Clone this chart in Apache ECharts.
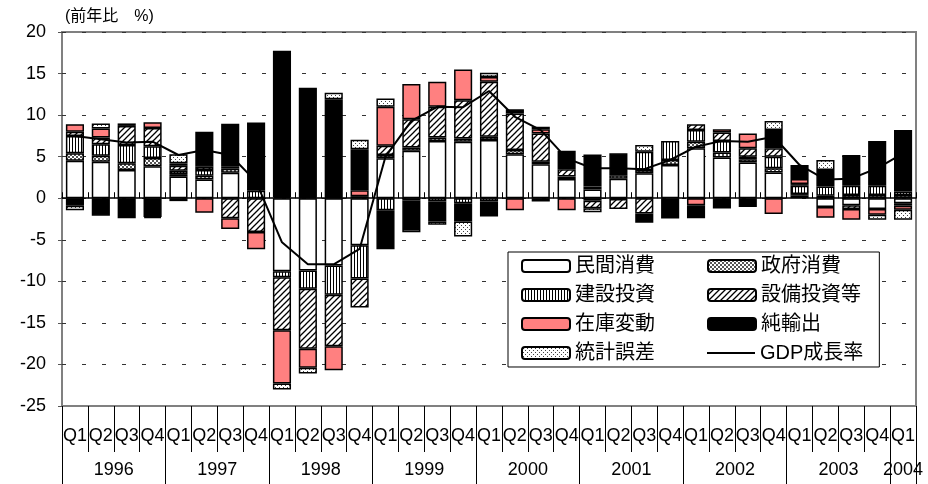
<!DOCTYPE html>
<html lang="ja">
<head>
<meta charset="UTF-8">
<title>GDP成長率 寄与度</title>
<script src="https://cdn.jsdelivr.net/npm/echarts@6/dist/echarts.min.js"></script>
<style>
  html, body { margin: 0; padding: 0; background: #fff; }
  #chart { width: 928px; height: 484px; }
</style>
</head>
<body>
<div id="chart"></div>
<script>
// 四半期・年ラベル
var quarters = [];
var years = [];
for (var y = 1996; y <= 2004; y++) {
    for (var q = 1; q <= 4; q++) {
        if (y === 2004 && q > 1) break;
        quarters.push('Q' + q);
        years.push(String(y));
    }
}

// 寄与度（前年比 %）
var consumption = [4.5, 4.4, 3.4, 3.85, 2.6, 2.25, 3.05, 0, -8.8, -8.7, -8.1, -5.65, 4.8, 5.7, 6.9, 6.8, 7.0, 5.3, 4.1, 2.3, 1.05, 2.35, 3.0, 4.0, 6.0, 4.9, 4.3, 3.1, 0.3, -1.05, -0.85, -1.3, -0.6];
var government  = [0.9, 0.7, 0.8, 1.0, 0.3, 0.45, 0.5, 0, 0.15, 0.1, 0.1, 0.25, 0.4, 0.4, 0.4, 0.4, 0.4, 0.5, 0.3, 0.3, 0.35, 0.4, 0.4, 0.6, 0.8, 0.6, 0.4, 0.5, 0.2, 0.3, 0.4, 0.4, 0.4];
var construction= [2.1, 1.4, 2.2, 1.4, 0.4, 0.7, 0.3, 0.9, -0.7, -2.2, -3.5, -4.0, -1.45, -0.3, -0.4, -0.6, -0.4, 0, 0, 0, -0.3, -0.1, 2.2, 2.3, 1.4, 1.4, 0.3, 1.4, 1.0, 1.1, 1.1, 1.1, 0.4];
var equipment   = [0.5, 0.8, 2.3, 2.2, 0.6, 0.4, -2.4, -4.05, -6.4, -7.2, -6.2, -3.5, 1.1, 3.4, 3.7, 4.6, 6.6, 4.4, 3.4, 0.9, -0.9, -1.2, -1.85, 0, 0.7, 1.0, 1.0, 1.0, 0.2, 0, -0.45, 0, -0.3];
var inventory   = [0.9, 1.1, 0, 0.7, 0.3, -1.75, -1.3, -2.1, -6.4, -2.3, -2.9, 0.7, 4.7, 4.25, 3.0, 3.7, 0.6, -1.45, 0.5, -1.45, 0, 0, 0, 0, -0.85, 0.4, 1.8, -1.9, 0.6, -1.3, -1.3, -0.7, -0.5];
var netExports  = [-0.9, -2.1, -2.4, -2.25, -0.35, 4.2, 5.1, 8.2, 17.6, 13.2, 11.8, 4.95, -4.7, -3.4, -2.4, -2.2, -1.8, 0.5, -0.4, 2.2, 3.85, 2.65, -1.1, -2.45, -1.55, -1.25, -1.05, 2.2, 1.7, 2.0, 3.7, 5.4, 7.4];
var discrepancy = [-0.55, 0.6, 0.3, -0.15, 1.1, 0, 0, 0, -0.7, -0.7, 0.8, 1.15, 1.0, -0.4, -0.4, -1.8, 0.5, 0, 0.3, 0, -0.5, 0, 0.8, 0, 0, 0, 0, 1.1, 0, 1.2, 0, -0.6, -1.2];
var gdpGrowth   = [7.5, 7.1, 6.7, 6.8, 5.2, 5.8, 5.2, 2.0, -5.3, -7.95, -7.95, -6.1, 5.0, 9.3, 11.0, 10.95, 12.9, 9.8, 8.2, 4.8, 3.6, 3.6, 3.5, 4.6, 6.2, 6.9, 6.8, 7.4, 4.0, 2.25, 2.35, 3.6, 5.4];

var names = ['民間消費', '政府消費', '建設投資', '設備投資等', '在庫変動', '純輸出', '統計誤差', 'GDP成長率'];

// ハッチング用パターン
function pattern(w, h, draw) {
    var c = document.createElement('canvas');
    c.width = w; c.height = h;
    var g = c.getContext('2d');
    g.fillStyle = '#fff';
    g.fillRect(0, 0, w, h);
    draw(g);
    return { image: c, repeat: 'repeat' };
}
var checker = pattern(4, 4, function (g) {
    g.fillStyle = '#555';
    g.fillRect(0, 0, 2, 2);
    g.fillRect(2, 2, 2, 2);
});
var vlines = pattern(3, 3, function (g) {
    g.fillStyle = '#000';
    g.fillRect(0, 0, 1, 3);
});
var diagonal = pattern(6, 6, function (g) {
    g.strokeStyle = '#000';
    g.lineWidth = 1.3;
    g.beginPath();
    g.moveTo(-1, 7); g.lineTo(7, -1);
    g.moveTo(-4, 4); g.lineTo(4, -4);
    g.moveTo(2, 10); g.lineTo(10, 2);
    g.stroke();
});
var dots = pattern(4, 4, function (g) {
    g.fillStyle = '#444';
    g.fillRect(1, 1, 1, 1);
    g.fillRect(3, 3, 1, 1);
});

var fills = ['#fff', checker, vlines, diagonal, '#ff8080', '#000', dots];
var values = [consumption, government, construction, equipment, inventory, netExports, discrepancy];

function clean(arr) {
    return arr.map(function (v) { return v === 0 ? '-' : v; });
}

var series = values.map(function (arr, i) {
    return {
        name: names[i],
        type: 'bar',
        stack: 'gdp',
        barWidth: '70%',
        data: clean(arr),
        itemStyle: { color: fills[i], borderColor: '#000', borderWidth: 1.5 },
        emphasis: { disabled: true }
    };
});
series.push({
    name: names[7],
    type: 'line',
    data: gdpGrowth,
    symbol: 'none',
    z: 5,
    lineStyle: { color: '#000', width: 2 },
    itemStyle: { color: '#000' },
    emphasis: { disabled: true }
});

var font = "'Liberation Sans', 'Noto Sans CJK JP', sans-serif";
var myChart = echarts.init(document.getElementById('chart'));
myChart.setOption({
    animation: false,
    textStyle: { fontFamily: font },
    title: {
        text: '(前年比　%)',
        left: 60, top: 4,
        textStyle: { fontSize: 16, fontWeight: 'normal', color: '#000', fontFamily: font }
    },
    legend: {
        left: 508, top: 252,
        width: 365,
        padding: [4, 16, 4, 13],
        itemWidth: 48, itemHeight: 12, itemGap: 9,
        borderColor: '#000', borderWidth: 1,
        backgroundColor: '#fff',
        textStyle: { fontSize: 20, lineHeight: 18, color: '#000', fontFamily: font },
        data: names.map(function (n, i) {
            var item = { name: n, textStyle: { width: i % 2 === 0 ? 123 : 102 } };
            if (i === 7) item.icon = 'path://M0,0L48,0L48,2L0,2Z';
            return item;
        })
    },
    grid: {
        left: 62, right: 12, top: 32, bottom: 78,
        show: true, borderColor: '#808080', borderWidth: 2
    },
    xAxis: [
        {
            type: 'category', data: quarters,
            axisLine: { onZero: true, lineStyle: { color: '#000', width: 1.5 } },
            axisTick: { show: true, inside: true, length: 6, interval: 0, lineStyle: { color: '#000' } },
            axisLabel: { show: false }
        },
        {
            type: 'category', data: quarters, position: 'bottom',
            axisLine: { show: true, onZero: false, lineStyle: { color: '#808080', width: 2 } },
            axisTick: { show: true, inside: false, length: 46, interval: 0, lineStyle: { color: '#000', width: 1 } },
            axisLabel: { interval: 0, margin: 21, fontSize: 18, color: '#000' }
        },
        {
            type: 'category', data: years, position: 'bottom',
            axisLine: { show: true, onZero: false, lineStyle: { color: '#808080', width: 2 } },
            axisTick: {
                show: true, inside: false,
                length: 78,
                interval: function (i) { return i % 4 === 0; },
                lineStyle: { color: '#000', width: 1 }
            },
            axisLabel: {
                interval: function (i) { return i % 4 === 1 || i === 32; },
                margin: 55,
                formatter: function (v, i) { return i === 32 ? '{b|' + v + '}' : '{a|' + v + '}'; },
                rich: {
                    a: { fontSize: 18, color: '#000', padding: [0, 0, 0, 26] },
                    b: { fontSize: 18, color: '#000' }
                }
            }
        }
    ],
    yAxis: {
        type: 'value', min: -25, max: 20, interval: 5,
        axisLine: { show: false },
        axisTick: { show: true, length: 4, lineStyle: { color: '#555' } },
        axisLabel: { fontSize: 18, color: '#000', margin: 16 },
        splitLine: { show: true, lineStyle: { color: '#333', width: 1, type: [4, 16] } }
    },
    series: series
});
</script>
</body>
</html>
